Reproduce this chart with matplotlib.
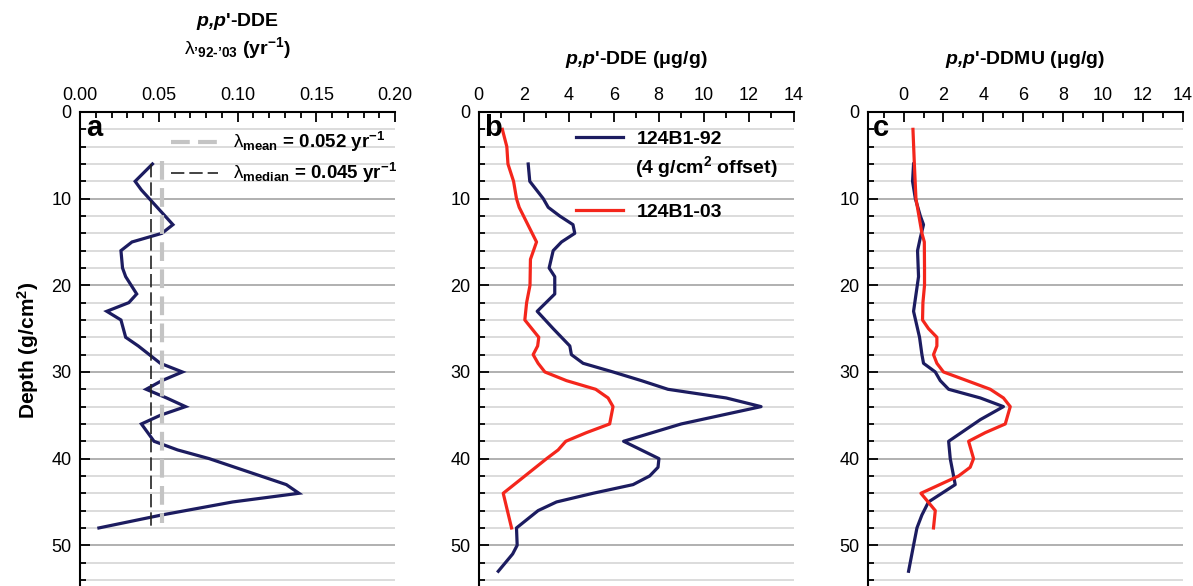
import matplotlib
matplotlib.use('Agg')
import matplotlib.pyplot as plt
from matplotlib.ticker import MultipleLocator

plt.rcParams['font.family'] = ['Liberation Sans', 'DejaVu Sans']
plt.rcParams['mathtext.fontset'] = 'custom'
plt.rcParams['mathtext.rm'] = 'Liberation Sans'
plt.rcParams['mathtext.it'] = 'Liberation Sans:italic'
plt.rcParams['mathtext.bf'] = 'Liberation Sans:bold'
plt.rcParams['mathtext.bfit'] = 'Liberation Sans:italic:bold'

NAVY = '#1c1c60'
RED = '#f4261c'

# panel a: decay constant lambda '92-'03
depth_a = [6, 8, 9, 10, 13, 14, 15, 16, 18, 19, 21, 22, 23, 24, 26, 27, 28, 29,
           30, 31, 32, 33, 34, 35, 36, 37.5, 38, 39, 40, 43, 44, 45, 46.5, 48]
lam = [0.046, 0.035, 0.039, 0.044, 0.059, 0.052, 0.033, 0.026, 0.027, 0.029,
       0.036, 0.031, 0.017, 0.026, 0.029, 0.037, 0.044, 0.051, 0.065, 0.052,
       0.042, 0.055, 0.067, 0.051, 0.039, 0.045, 0.047, 0.062, 0.082, 0.131,
       0.139, 0.097, 0.052, 0.012]
lam_mean = 0.052
lam_median = 0.045

# panel b: p,p'-DDE
depth_b92 = [6, 8, 10, 11, 12, 13, 14, 15, 16, 18, 19, 21, 23, 25, 27, 28, 29,
             30, 31, 32, 33, 34, 36, 38, 40, 41, 42, 43, 44, 45, 46, 48, 50, 51,
             53]
dde_92 = [2.2, 2.27, 2.87, 3.09, 3.6, 4.19, 4.27, 3.68, 3.31, 3.13, 3.38, 3.38,
          2.6, 3.31, 4.05, 4.12, 4.64, 5.97, 7.23, 8.41, 11.0, 12.55, 9.0, 6.44,
          8.01, 7.97, 7.6, 6.86, 5.08, 3.46, 2.64, 1.68, 1.71, 1.51, 0.87]
depth_b03 = [2, 4, 6, 8, 10, 11, 15, 17, 20, 22, 24, 26, 27, 28, 29, 30, 31, 32,
             33, 34, 36, 37, 38, 39, 40, 44, 48]
dde_03 = [1.05, 1.25, 1.3, 1.55, 1.68, 1.8, 2.57, 2.3, 2.28, 2.13, 2.05, 2.67,
          2.62, 2.42, 2.64, 2.94, 3.9, 5.2, 5.75, 5.97, 5.82, 4.79, 3.87, 3.53,
          3.02, 1.09, 1.46]

# panel c: p,p'-DDMU
depth_c92 = [6, 8, 10, 12, 13, 14.5, 16, 19, 23, 26, 28, 29, 30, 31, 32, 33, 34,
             35.5, 38, 40, 43, 45, 46.5, 48, 50, 53]
ddmu_92 = [0.5, 0.45, 0.59, 0.84, 1.0, 0.84, 0.7, 0.75, 0.5, 0.8, 0.92, 1.0,
           1.59, 1.84, 2.26, 3.85, 5.01, 3.85, 2.26, 2.34, 2.59, 1.25, 0.92,
           0.67, 0.5, 0.25]
depth_c03 = [2, 6, 10, 14, 15, 18, 20, 22, 24, 25, 26, 27, 28, 29, 30, 31, 32,
             33, 34, 36, 37, 38, 40, 41, 42, 44, 46, 48]
ddmu_03 = [0.47, 0.54, 0.62, 0.92, 1.04, 1.05, 1.05, 0.97, 0.95, 1.25, 1.67,
           1.67, 1.5, 1.67, 2.0, 3.18, 4.35, 5.01, 5.35, 5.1, 4.1, 3.26, 3.51,
           3.34, 2.76, 0.87, 1.59, 1.5]

W, H = 1193, 586
fig = plt.figure(figsize=(W / 100, H / 100), dpi=100)

top = 112
lefts = [80, 478.7, 867.7]
width = 315
axes = []
for x0 in lefts:
    ax = fig.add_axes([x0 / W, 0, width / W, (H - top) / H])
    axes.append(ax)

xlims = [(0, 0.2), (0, 14), (-1.8, 14)]
xmaj = [0.05, 2, 2]
xmin = [0.01, 1, 1]
for ax, xl, mj, mn in zip(axes, xlims, xmaj, xmin):
    ax.set_xlim(*xl)
    ax.set_ylim(54.7, 0)
    ax.xaxis.tick_top()
    ax.xaxis.set_major_locator(MultipleLocator(mj))
    ax.xaxis.set_minor_locator(MultipleLocator(mn))
    ax.yaxis.set_major_locator(MultipleLocator(10))
    ax.yaxis.set_minor_locator(MultipleLocator(2))
    ax.tick_params(which='both', direction='in', width=1.3, labelsize=13, pad=6)
    ax.tick_params(which='major', length=7)
    ax.tick_params(which='minor', length=4)
    ax.spines['bottom'].set_visible(False)
    ax.spines['right'].set_visible(False)
    ax.spines['top'].set_linewidth(1.5)
    ax.spines['left'].set_linewidth(1.5)
    ax.set_axisbelow(True)
    ax.grid(axis='y', which='major', color='#a3a3a3', lw=1.2)
    ax.grid(axis='y', which='minor', color='#d6d6d6', lw=1.2)

axes[0].xaxis.set_major_formatter(lambda v, p: f'{v:.2f}')
axes[2].set_xticks(range(0, 15, 2))

# panel a
ax = axes[0]
ax.plot(lam, depth_a, color=NAVY, lw=2.3, solid_joinstyle='miter')
ax.vlines(lam_mean, 5.7, 47.4, color='#c4c4c4', lw=3, linestyles=(0, (4.5, 2)),
          label=r'$\mathrm{\lambda}_{\mathbf{mean}}$ = 0.052 yr$^{\mathbf{-1}}$')
ax.vlines(lam_median, depth_a[0], depth_a[-1], color='#222222', lw=1.2,
          linestyles=(0, (8, 3)),
          label=r'$\mathrm{\lambda}_{\mathbf{median}}$ = 0.045 yr$^{\mathbf{-1}}$')
ax.legend(loc='upper right', bbox_to_anchor=(1.005, 0.962), frameon=False,
          prop={'weight': 'bold', 'size': 13.5}, handlelength=2.5,
          handletextpad=0.8, labelspacing=0.38, borderpad=0, borderaxespad=0)
fig.text(28 / W, 1 - 350 / H, 'Depth (g/cm$^\\mathbf{2}$)', rotation=90,
         ha='center', va='center', fontsize=15, fontweight='bold')
ax.text(0.5, 1.19, r"$\mathbfit{p{,}p}$'-DDE", transform=ax.transAxes,
        ha='center', va='center', fontsize=14, fontweight='bold')
ax.text(0.5, 1.135,
        "$\\mathrm{\\lambda}_{\\mathbf{\u201992\u2010\u201903}}$ (yr$^{\\mathbf{-1}}$)",
        transform=ax.transAxes, ha='center', va='center', fontsize=14,
        fontweight='bold')

# panel b
ax = axes[1]
ax.plot(dde_92, depth_b92, color=NAVY, lw=2.3, label='124B1-92')
ax.plot(dde_03, depth_b03, color=RED, lw=2.3, label='124B1-03')
ax.legend(loc='upper left', bbox_to_anchor=(0.31, 0.962), frameon=False,
          prop={'weight': 'bold', 'size': 14}, handlelength=2.4,
          handletextpad=0.7, labelspacing=2.85, borderpad=0, borderaxespad=0)
ax.text(0.497, 0.883, '(4 g/cm$^\\mathbf{2}$ offset)', transform=ax.transAxes,
        ha='left', va='center', fontsize=14, fontweight='bold')
ax.text(0.5, 1.11, r"$\mathbfit{p{,}p}$'-DDE (μg/g)", transform=ax.transAxes,
        ha='center', va='center', fontsize=14, fontweight='bold')

# panel c
ax = axes[2]
ax.plot(ddmu_92, depth_c92, color=NAVY, lw=2.3)
ax.plot(ddmu_03, depth_c03, color=RED, lw=2.3)
ax.text(0.5, 1.11, r"$\mathbfit{p{,}p}$'-DDMU (μg/g)", transform=ax.transAxes,
        ha='center', va='center', fontsize=14, fontweight='bold')

for ax, lab in zip(axes, 'abc'):
    ax.text(0.018, 0.995, lab, transform=ax.transAxes, ha='left', va='top',
            fontsize=21, fontweight='bold')

fig.savefig('out.png', dpi=100)
